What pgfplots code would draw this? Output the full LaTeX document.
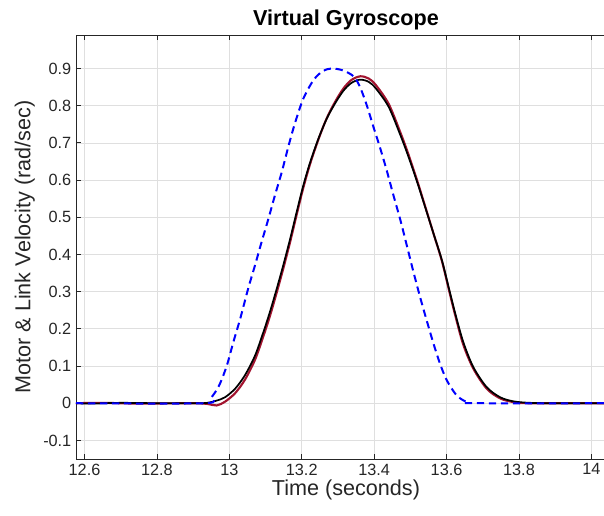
\documentclass[border=0pt]{standalone}
\usepackage{fontspec}
\setmainfont{Liberation Sans}
\usepackage{pgfplots}
\pgfplotsset{compat=1.18}
\definecolor{axgray}{HTML}{262626}
\definecolor{gridgray}{HTML}{DFDFDF}
\definecolor{mred}{rgb}{0.635,0.078,0.184}
\begin{document}
\begin{tikzpicture}
\begin{axis}[
  at={(0,0)}, anchor=south west,
  width=405pt, height=318pt, scale only axis,
  xmin=12.5765, xmax=14.068, ymin=-0.15, ymax=0.99,
  xtick={12.6,12.8,13,13.2,13.4,13.6,13.8,14},
  xticklabels={12.6,12.8,13,13.2,13.4,13.6,13.8,14},
  ytick={-0.1,0,0.1,0.2,0.3,0.4,0.5,0.6,0.7,0.8,0.9},
  yticklabels={-0.1,0,0.1,0.2,0.3,0.4,0.5,0.6,0.7,0.8,0.9},
  tick align=inside, major tick length=4pt,
  grid=major, grid style={gridgray, line width=0.5pt},
  axis line style={axgray, line width=0.6pt},
  tick style={axgray, line width=0.6pt},
  ticklabel style={font=\fontsize{12.2}{13}\selectfont, text=axgray},
  xlabel={Time (seconds)}, ylabel={Motor \& Link Velocity (rad/sec)},
  label style={font=\fontsize{16.2}{17}\selectfont, text=axgray},
  xlabel style={at={(axis description cs:0.5,-0.073)}, anchor=center},
  ylabel style={at={(axis description cs:-0.095,0.5)}, anchor=center},
  title={Virtual Gyroscope},
  title style={font=\bfseries\fontsize{16.2}{17}\selectfont, at={(axis description cs:0.5,1.031)}, anchor=center, yshift=-4.5pt},
]
\addplot[mred, line width=1.6pt, smooth, tension=0.5] coordinates {
(12.5765,0) (12.65,0.001) (12.75,-0.001) (12.90,0) (12.94,-0.002) (12.965,-0.006)
(12.988,0.004) (13.016,0.027) (13.043,0.063) (13.071,0.117) (13.094,0.180)
(13.112,0.234) (13.131,0.298) (13.149,0.362) (13.168,0.434) (13.186,0.507)
(13.204,0.578) (13.223,0.643) (13.246,0.709) (13.269,0.766) (13.292,0.810)
(13.315,0.846) (13.337,0.869) (13.362,0.879) (13.385,0.873) (13.405,0.855)
(13.44,0.805) (13.472,0.729) (13.494,0.671) (13.518,0.601) (13.541,0.529)
(13.564,0.456) (13.587,0.383) (13.605,0.311) (13.623,0.240) (13.646,0.158)
(13.674,0.093) (13.711,0.039) (13.748,0.013) (13.785,0.003) (13.83,0) (14.068,0)
};
\addplot[black, line width=1.3pt, smooth, tension=0.5] coordinates {
(12.5765,0) (12.62,-0.001) (12.70,0.001) (12.80,0) (12.92,0) (12.945,0.002)
(12.965,0.007) (12.988,0.016) (13.016,0.039) (13.043,0.075) (13.071,0.128)
(13.094,0.191) (13.112,0.245) (13.131,0.308) (13.149,0.371) (13.168,0.442)
(13.186,0.514) (13.204,0.584) (13.223,0.647) (13.246,0.711) (13.269,0.765)
(13.292,0.806) (13.315,0.840) (13.337,0.861) (13.361,0.870) (13.385,0.864)
(13.405,0.846) (13.44,0.797) (13.472,0.722) (13.494,0.665) (13.518,0.597)
(13.541,0.527) (13.564,0.456) (13.587,0.385) (13.605,0.315) (13.623,0.245)
(13.646,0.165) (13.674,0.097) (13.711,0.043) (13.748,0.016) (13.785,0.005)
(13.83,0.001) (13.9,0) (14.068,0)
};
\addplot[blue, line width=1.5pt, dash pattern=on 5.5pt off 3.5pt, smooth, tension=0.5] coordinates {
(12.5765,0) (12.930,0) (12.950,0.015) (12.972,0.048) (12.993,0.101) (13.011,0.164)
(13.030,0.227) (13.052,0.308) (13.071,0.371) (13.089,0.433) (13.108,0.496)
(13.126,0.559) (13.145,0.622) (13.163,0.690) (13.181,0.752) (13.204,0.818)
(13.232,0.868) (13.258,0.893) (13.283,0.900) (13.313,0.895) (13.343,0.879)
(13.361,0.850) (13.380,0.800) (13.398,0.743) (13.416,0.688) (13.435,0.625)
(13.453,0.560) (13.472,0.494) (13.490,0.425) (13.508,0.355) (13.527,0.285)
(13.545,0.223) (13.564,0.160) (13.582,0.106) (13.601,0.061) (13.628,0.021)
(13.656,0.003) (13.68,0) (14.068,0)
};
\end{axis}
\pgfresetboundingbox
\path (-57pt,-42pt) rectangle (396pt,344.25pt);
\end{tikzpicture}
\end{document}
